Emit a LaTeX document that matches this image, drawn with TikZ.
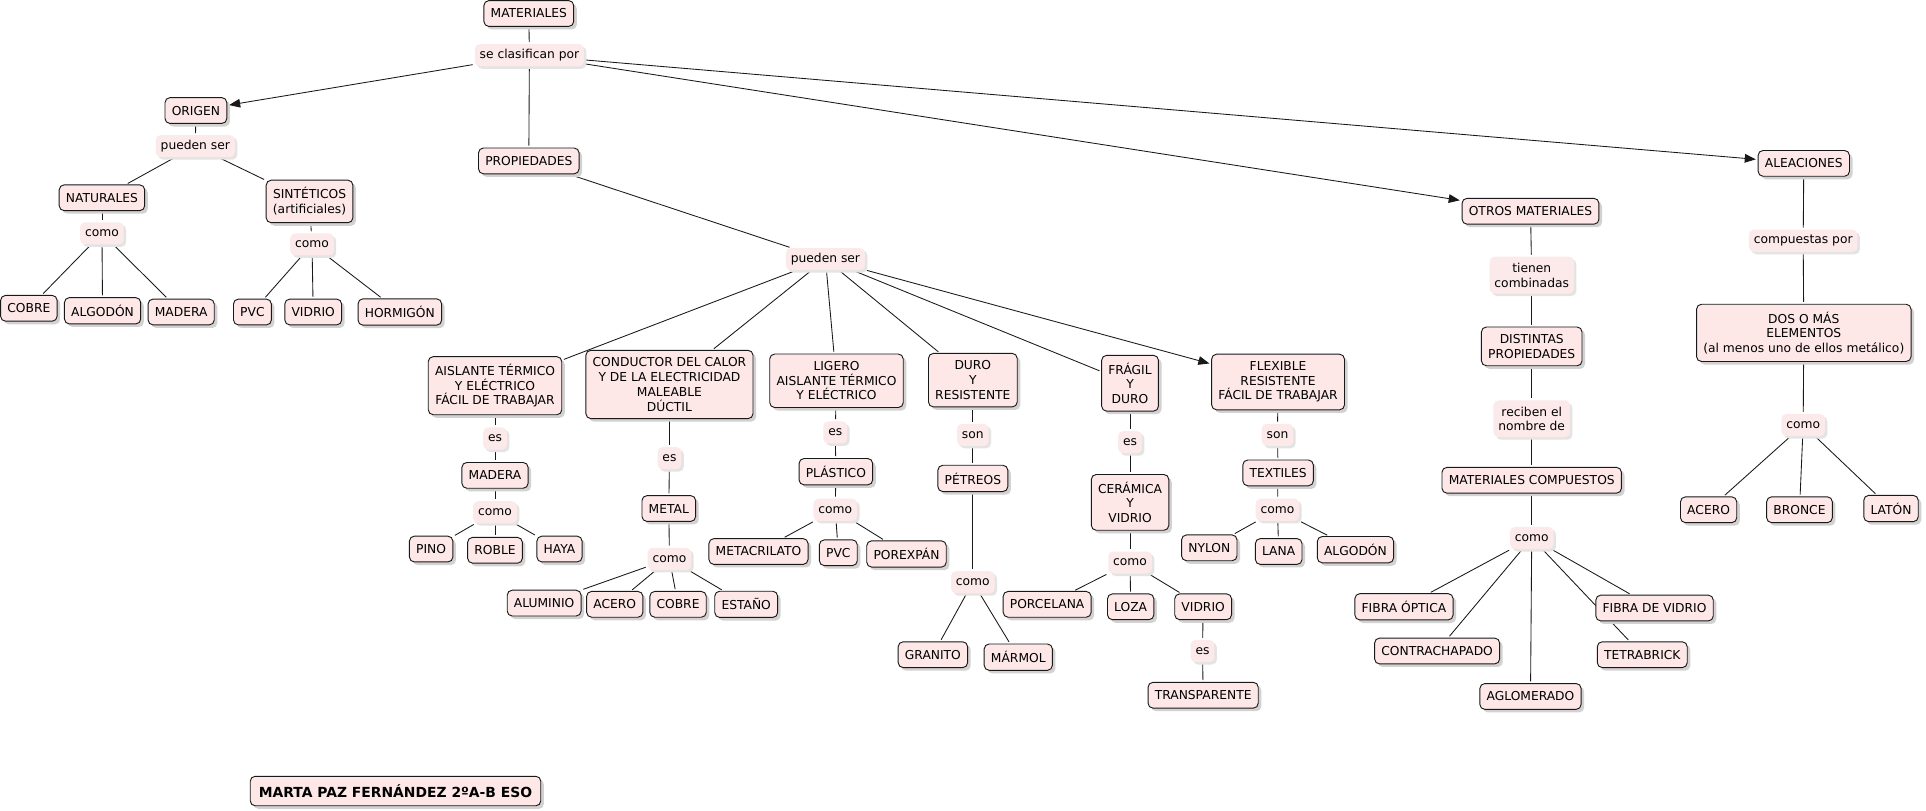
\documentclass[tikz,border=0pt]{standalone}
\usepackage{fontspec}
\setmainfont{DejaVu Sans}
\usetikzlibrary{shadows,arrows.meta,backgrounds}
\definecolor{cfill}{RGB}{253,231,231}
\definecolor{lfill}{RGB}{252,233,233}
\definecolor{shgray}{RGB}{210,210,210}
\definecolor{edgecol}{RGB}{25,25,25}
\begin{document}
\begin{tikzpicture}[x=1pt,y=-1pt,
  every node/.style={font=\fontsize{10}{12}\selectfont, align=center},
  concept/.style={draw=edgecol, line width=0.75pt, rounded corners=4pt, fill=cfill,
    inner xsep=5.5pt, inner ysep=6pt, minimum height=21pt,
    drop shadow={shadow xshift=2.5pt, shadow yshift=-2.5pt, fill=shgray, opacity=1}},
  phrase/.style={fill=lfill, rounded corners=4pt, inner xsep=4pt, inner ysep=4pt, minimum height=18pt,
    drop shadow={shadow xshift=2pt, shadow yshift=-2pt, fill=shgray!60, opacity=1}},
  phrase2/.style={phrase, minimum height=30pt},
  link/.style={draw=edgecol, line width=0.7pt, shorten <=1.5pt, shorten >=1.5pt},
  arr/.style={link, -{Triangle[length=9pt,width=7pt]}},
  titlebox/.style={concept, font=\fontsize{11.3}{13}\selectfont\bfseries, minimum height=24pt, inner xsep=7pt, inner ysep=5pt}
]
\useasboundingbox (0,0) rectangle (1568,660);

% top
\node[concept] (mat) at (430.5,11) {MATERIALES};
\node[phrase] (sc) at (431,45) {se clasifican por};

% origen
\node[concept] (orig) at (159.5,90) {ORIGEN};
\node[phrase] (ps1) at (159,119) {pueden ser};
\node[concept] (nat) at (83,161) {NATURALES};
\node[concept] (sint) at (252,164) {SINTÉTICOS\\(artificiales)};
\node[phrase] (como1) at (83,190) {como};
\node[phrase] (como2) at (254,199) {como};
\node[concept] (cobre1) at (23.5,251) {COBRE};
\node[concept] (algo1) at (83.5,253) {ALGODÓN};
\node[concept] (mad1) at (147.5,254) {MADERA};
\node[concept] (pvc1) at (205.5,254) {PVC};
\node[concept] (vid1) at (255,254) {VIDRIO};
\node[concept] (horm) at (325.5,254) {HORMIGÓN};

% propiedades
\node[concept] (prop) at (430.5,131) {PROPIEDADES};
\node[phrase] (ps2) at (672,211) {pueden ser};
\node[concept] (aisl) at (403,314) {AISLANTE TÉRMICO\\Y ELÉCTRICO\\FÁCIL DE TRABAJAR};
\node[concept] (cond) at (545,313) {CONDUCTOR DEL CALOR\\Y DE LA ELECTRICIDAD\\MALEABLE\\DÚCTIL};
\node[concept] (lig) at (681,310) {LIGERO\\AISLANTE TÉRMICO\\Y ELÉCTRICO};
\node[concept] (duro) at (792,309.5) {DURO\\Y\\RESISTENTE};
\node[concept] (frag) at (920,312) {FRÁGIL\\Y\\DURO};
\node[concept] (flex) at (1040.5,311) {FLEXIBLE\\RESISTENTE\\FÁCIL DE TRABAJAR};

\node[phrase] (es1) at (403,357) {es};
\node[concept] (mad2) at (403,387) {MADERA};
\node[phrase] (como3) at (403,417) {como};
\node[concept] (pino) at (351,447) {PINO};
\node[concept] (roble) at (403,448) {ROBLE};
\node[concept] (haya) at (455.5,447) {HAYA};

\node[phrase] (es2) at (545,373) {es};
\node[concept] (metal) at (544.5,414) {METAL};
\node[phrase] (como4) at (545,455) {como};
\node[concept] (alum) at (443,491) {ALUMINIO};
\node[concept] (acero1) at (500.5,492) {ACERO};
\node[concept] (cobre2) at (552,492) {COBRE};
\node[concept] (estano) at (607.5,492) {ESTAÑO};

\node[phrase] (es3) at (680,352) {es};
\node[concept] (plast) at (680.5,384) {PLÁSTICO};
\node[phrase] (como5) at (680,415) {como};
\node[concept] (metac) at (617.5,449) {METACRILATO};
\node[concept] (pvc2) at (682.5,450) {PVC};
\node[concept] (porex) at (738,451) {POREXPÁN};

\node[phrase] (son1) at (792,354) {son};
\node[concept] (petr) at (792,389.5) {PÉTREOS};
\node[phrase] (como6) at (792,474) {como};
\node[concept] (gran) at (759.5,533) {GRANITO};
\node[concept] (marm) at (829,535) {MÁRMOL};

\node[phrase] (es4) at (920,360) {es};
\node[concept] (ceram) at (920,409) {CERÁMICA\\Y\\VIDRIO};
\node[phrase] (como7) at (920,458) {como};
\node[concept] (porc) at (852.5,492) {PORCELANA};
\node[concept] (loza) at (920.5,494) {LOZA};
\node[concept] (vid2) at (979.5,494) {VIDRIO};
\node[phrase] (es5) at (979,530) {es};
\node[concept] (transp) at (979.5,566) {TRANSPARENTE};

\node[phrase] (son2) at (1040,354) {son};
\node[concept] (textil) at (1040.5,385) {TEXTILES};
\node[phrase] (como8) at (1040,415) {como};
\node[concept] (nylon) at (984.5,446) {NYLON};
\node[concept] (lana) at (1041,449) {LANA};
\node[concept] (algo2) at (1103.5,447.5) {ALGODÓN};

% otros materiales
\node[concept] (otros) at (1246,172) {OTROS MATERIALES};
\node[phrase2] (tc) at (1247,224) {tienen\\combinadas};
\node[concept] (dist) at (1247,282) {DISTINTAS\\PROPIEDADES};
\node[phrase2] (rn) at (1247,341) {reciben el\\nombre de};
\node[concept] (matc) at (1247,391) {MATERIALES COMPUESTOS};
\node[phrase] (como9) at (1247,438) {como};
\node[concept] (fopt) at (1143,494) {FIBRA ÓPTICA};
\node[concept] (contra) at (1170,530) {CONTRACHAPADO};
\node[concept] (aglom) at (1246,567) {AGLOMERADO};
\node[concept] (fvid) at (1347,495) {FIBRA DE VIDRIO};
\node[concept] (tetra) at (1337,533) {TETRABRICK};

% aleaciones
\node[concept] (aleac) at (1468.5,133) {ALEACIONES};
\node[phrase] (cp) at (1468,196) {compuestas por};
\node[concept] (dos) at (1468.5,271) {DOS O MÁS\\ELEMENTOS\\(al menos uno de ellos metálico)};
\node[phrase] (como10) at (1468,346) {como};
\node[concept] (acero2) at (1391,415) {ACERO};
\node[concept] (bronce) at (1465,415) {BRONCE};
\node[concept] (laton) at (1539.5,414) {LATÓN};

% title
\node[titlebox] (title) at (322,644) {MARTA PAZ FERNÁNDEZ 2ºA-B ESO};

\begin{scope}[on background layer]
\fill[white] (0,0) rectangle (1568,660);
\draw[link] (mat) -- (sc);
\draw[arr] (sc) -- (orig);
\draw[link] (sc) -- (prop);
\draw[arr] (sc) -- (otros);
\draw[arr] (sc) -- (aleac);

\draw[link] (orig) -- (ps1);
\draw[link] (ps1) -- (nat);
\draw[link] (ps1) -- (sint);
\draw[link] (nat) -- (como1);
\draw[link] (como1) -- (cobre1);
\draw[link] (como1) -- (algo1);
\draw[link] (como1) -- (mad1);
\draw[link] (sint) -- (como2);
\draw[link] (como2) -- (pvc1);
\draw[link] (como2) -- (vid1);
\draw[link] (como2) -- (horm);

\draw[link] (prop) -- (ps2);
\draw[link] (ps2) -- (aisl);
\draw[link] (ps2) -- (cond);
\draw[link] (ps2) -- (lig);
\draw[link] (ps2) -- (duro);
\draw[link] (ps2) -- (frag);
\draw[arr] (ps2) -- (flex);

\draw[link] (aisl) -- (es1);
\draw[link] (es1) -- (mad2);
\draw[link] (mad2) -- (como3);
\draw[link] (como3) -- (pino);
\draw[link] (como3) -- (roble);
\draw[link] (como3) -- (haya);

\draw[link] (cond) -- (es2);
\draw[link] (es2) -- (metal);
\draw[link] (metal) -- (como4);
\draw[link] (como4) -- (alum);
\draw[link] (como4) -- (acero1);
\draw[link] (como4) -- (cobre2);
\draw[link] (como4) -- (estano);

\draw[link] (lig) -- (es3);
\draw[link] (es3) -- (plast);
\draw[link] (plast) -- (como5);
\draw[link] (como5) -- (metac);
\draw[link] (como5) -- (pvc2);
\draw[link] (como5) -- (porex);

\draw[link] (duro) -- (son1);
\draw[link] (son1) -- (petr);
\draw[link] (petr) -- (como6);
\draw[link] (como6) -- (gran);
\draw[link] (como6) -- (marm);

\draw[link] (frag) -- (es4);
\draw[link] (es4) -- (ceram);
\draw[link] (ceram) -- (como7);
\draw[link] (como7) -- (porc);
\draw[link] (como7) -- (loza);
\draw[link] (como7) -- (vid2);
\draw[link] (vid2) -- (es5);
\draw[link] (es5) -- (transp);

\draw[link] (flex) -- (son2);
\draw[link] (son2) -- (textil);
\draw[link] (textil) -- (como8);
\draw[link] (como8) -- (nylon);
\draw[link] (como8) -- (lana);
\draw[link] (como8) -- (algo2);

\draw[link] (otros) -- (tc);
\draw[link] (tc) -- (dist);
\draw[link] (dist) -- (rn);
\draw[link] (rn) -- (matc);
\draw[link] (matc) -- (como9);
\draw[link] (como9) -- (fopt);
\draw[link] (como9) -- (contra);
\draw[link] (como9) -- (aglom);
\draw[link] (como9) -- (fvid);
\draw[link] (como9) -- (tetra);

\draw[link] (aleac) -- (cp);
\draw[link] (cp) -- (dos);
\draw[link] (dos) -- (como10);
\draw[link] (como10) -- (acero2);
\draw[link] (como10) -- (bronce);
\draw[link] (como10) -- (laton);
\end{scope}
\end{tikzpicture}
\end{document}
